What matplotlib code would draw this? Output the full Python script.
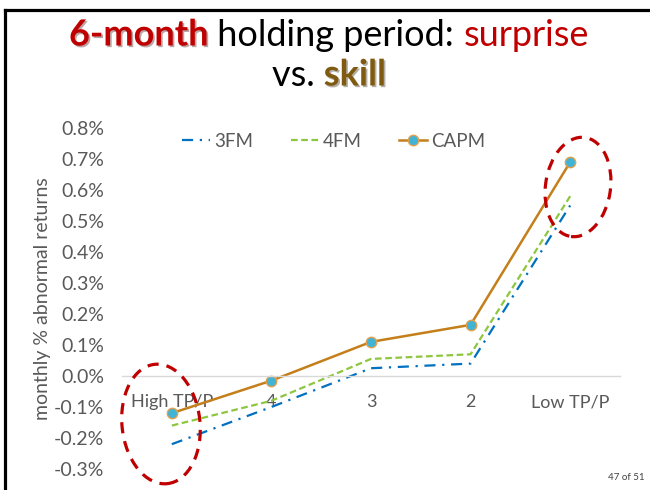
import numpy as np
import matplotlib.pyplot as plt
import matplotlib.patheffects as pe
from matplotlib.patches import Ellipse
from matplotlib.lines import Line2D
from matplotlib.ticker import FuncFormatter, MultipleLocator

plt.rcParams['font.family'] = ['Lato', 'DejaVu Sans']

# === Data (monthly % abnormal returns) ===
categories = ['High TP/P', '4', '3', '2', 'Low TP/P']
fm3 = [-0.22, -0.10, 0.025, 0.04, 0.55]
fm4 = [-0.16, -0.08, 0.055, 0.07, 0.58]
capm = [-0.12, -0.015, 0.11, 0.165, 0.69]

grey = '#595959'

fig = plt.figure(figsize=(6.5, 4.9), dpi=100)
ax = fig.add_axes([0.1877, 0.0429, 0.7661, 0.6959])

x = np.arange(len(categories))
ax.plot(x, fm3, color='#0070C0', lw=1.6, ls=(0, (5, 3, 1, 3)), label='3FM')
ax.plot(x, fm4, color='#8DC63F', lw=1.6, ls=(0, (3, 1.6)), label='4FM')
ax.plot(x, capm, color='#C47F1A', lw=1.8, marker='o', ms=7.5,
        mfc='#41B4D6', mec='#E0A050', mew=1.0, label='CAPM')

ax.set_xlim(-0.5, len(categories) - 0.5)
ax.set_ylim(-0.3, 0.8)
ax.yaxis.set_major_locator(MultipleLocator(0.1))
ax.yaxis.set_major_formatter(FuncFormatter(lambda v, p: f'{v:.1f}%'.replace('-0.0', '0.0')))
ax.set_xticks(x)
ax.set_xticklabels(categories)

for s in ['top', 'right', 'left']:
    ax.spines[s].set_visible(False)
ax.spines['bottom'].set_position(('data', 0))
ax.spines['bottom'].set_color('#D9D9D9')
ax.spines['bottom'].set_linewidth(1.0)
ax.tick_params(axis='both', length=0, labelcolor=grey)
ax.tick_params(axis='x', pad=13, labelsize=13)
ax.tick_params(axis='y', pad=13, labelsize=14)
ax.set_ylabel('monthly % abnormal returns', color=grey, fontsize=14, labelpad=2)

ax.legend(loc='upper center', bbox_to_anchor=(0.425, 1.035), ncol=3, frameon=False,
          fontsize=13.5, labelcolor=grey, handlelength=1.5, columnspacing=2.0,
          handletextpad=0.2)

# === Hand-drawn style ellipses (pixel based) ===
px = fig.dpi_scale_trans
for cx, cy, w, h, ang in [(161, 424, 78, 120, 6), (578, 187, 65, 100, -8)]:
    e = Ellipse((cx / 100, (490 - cy) / 100), w / 100, h / 100, angle=ang,
                transform=px, fill=False, ec='#C00000', lw=2.3,
                ls=(0, (3.5, 2.5)), clip_on=False)
    fig.add_artist(e)

# === Slide frame ===
fig.add_artist(Line2D([5 / 650, 5 / 650], [0, 1 - 10 / 490], color='black', lw=2.3,
                      transform=fig.transFigure))
fig.add_artist(Line2D([5 / 650, 1], [1 - 10 / 490, 1 - 10 / 490], color='black', lw=2.3,
                      transform=fig.transFigure))

# === Title with mixed colours ===
shadow = [pe.SimplePatchShadow(offset=(1.2, -1.2), alpha=0.35), pe.Normal()]


def draw_line(parts, y, size):
    renderer = fig.canvas.get_renderer()
    texts = []
    for s, color, weight, eff in parts:
        t = fig.text(0, y, s, color=color, fontsize=size, fontweight=weight,
                     va='center', ha='left', path_effects=eff)
        texts.append(t)
    widths = [t.get_window_extent(renderer).width for t in texts]
    total = sum(widths)
    xpos = 0.506 * fig.bbox.width - total / 2
    for t, w in zip(texts, widths):
        t.set_x(xpos / fig.bbox.width)
        xpos += w


draw_line([('6-month', '#C00000', 'bold', shadow),
           (' holding period: ', 'black', 'normal', None),
           ('surprise', '#C00000', 'normal', None)], 1 - 35 / 490, 26)
draw_line([('vs. ', 'black', 'normal', None),
           ('skill', '#7F5A10', 'bold', shadow)], 1 - 75 / 490, 26)

fig.text(0.992, 1 - 477 / 490, '47 of 51', fontsize=7, color='#404040', ha='right', va='center')

fig.savefig('out.png', dpi=100)
